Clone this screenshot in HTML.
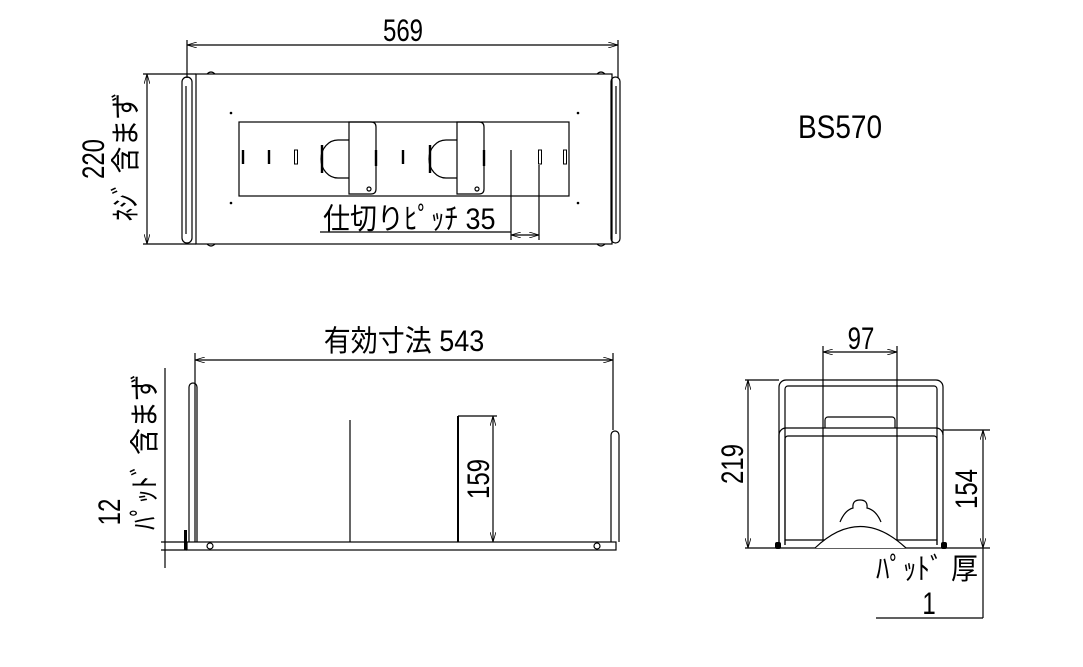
<!DOCTYPE html>
<html><head><meta charset="utf-8"><style>
html,body{margin:0;padding:0;background:#fff;}
svg{display:block;}
text{font-family:"Liberation Sans","Noto Sans CJK JP",sans-serif;fill:#000;}
</style></head><body>
<svg width="1083" height="667" viewBox="0 0 1083 667" xmlns="http://www.w3.org/2000/svg">
<defs>
<marker id="a" viewBox="0 0 10 6" refX="10" refY="3" markerWidth="10" markerHeight="6" orient="auto-start-reverse" markerUnits="userSpaceOnUse">
<path d="M0,0 L10,3 L0,6" fill="none" stroke="#000" stroke-width="0.8"/></marker>
</defs>
<g fill="none" stroke="#000" stroke-width="1.2">
<!-- TOP VIEW -->
<line x1="187" y1="40" x2="187" y2="78"/><line x1="618" y1="40" x2="618" y2="78"/>
<line x1="187" y1="45" x2="618" y2="45" marker-start="url(#a)" marker-end="url(#a)"/>
<rect x="196" y="74" width="416" height="170"/>
<rect x="182" y="77" width="10" height="166" rx="5"/>
<line x1="186" y1="86" x2="186" y2="234"/>
<rect x="611" y="77" width="9" height="166" rx="4.5"/>
<line x1="616" y1="86" x2="616" y2="234"/>
<path d="M207,74 q4,-4 8,0 M597,74 q4,-4 8,0 M207,244 q4,4 8,0 M597,244 q4,4 8,0"/>
<line x1="143" y1="74" x2="196" y2="74"/><line x1="143" y1="244" x2="196" y2="244"/>
<line x1="147" y1="74" x2="147" y2="244" marker-start="url(#a)" marker-end="url(#a)"/>
<rect x="239" y="122" width="330" height="74"/>
<path d="M349,122 h22 q5,0 5,5 v62 q0,5 -5,5 h-22 z"/>
<path d="M457,122 h22 q5,0 5,5 v62 q0,5 -5,5 h-22 z"/>
<path d="M349,140 h-11 a17,19 0 0 0 0,38 h11"/>
<path d="M457,140 h-11 a17,19 0 0 0 0,38 h11"/>
<circle cx="369" cy="189" r="2"/><circle cx="477" cy="189" r="2"/>
<rect x="294.5" y="150" width="3" height="14" stroke-width="1"/>
<rect x="538.5" y="150" width="3" height="14" stroke-width="1"/>
<rect x="563.5" y="150" width="3" height="14" stroke-width="1"/>
<line x1="511" y1="150" x2="511" y2="240"/><line x1="539" y1="165" x2="539" y2="240"/>
<line x1="511" y1="235" x2="539" y2="235" marker-start="url(#a)" marker-end="url(#a)"/>
<line x1="320" y1="232" x2="511" y2="232"/>
</g>
<g stroke="#000" stroke-width="2.4">
<line x1="243" y1="150" x2="243" y2="164"/><line x1="269" y1="150" x2="269" y2="164"/>
<line x1="403" y1="150" x2="403" y2="164"/><line x1="322" y1="145" x2="322" y2="173"/>
<line x1="430" y1="145" x2="430" y2="173"/><line x1="376" y1="150" x2="376" y2="166"/><line x1="484" y1="150" x2="484" y2="166"/>
</g>
<g fill="#000"><circle cx="231" cy="113" r="1.3"/><circle cx="578" cy="113" r="1.3"/><circle cx="231" cy="203" r="1.3"/><circle cx="578" cy="203" r="1.3"/></g>
<g transform="translate(403,41) scale(1,1.3)"><text font-size="24" text-anchor="middle">569</text></g>
<g transform="translate(104,159) rotate(-90) scale(1,1.3)"><text font-size="24" text-anchor="middle">220</text></g>
<g transform="translate(136,157) rotate(-90) scale(1,1.1)"><text font-size="27" text-anchor="middle">ﾈｼﾞ 含まず</text></g>
<g transform="translate(323,229) scale(1,1.1)"><text font-size="27">仕切りﾋﾟｯﾁ 35</text></g>
<g transform="translate(798,138) scale(1,1.15)"><text font-size="28">BS570</text></g>

<!-- SIDE VIEW -->
<g fill="none" stroke="#000" stroke-width="1.2">
<line x1="195" y1="353" x2="195" y2="542"/><line x1="613" y1="353" x2="613" y2="430"/>
<line x1="195" y1="360" x2="613" y2="360" marker-start="url(#a)" marker-end="url(#a)"/>
<path d="M189,542 V387 a4,4 0 0 1 8,0 V542"/>
<path d="M611,542 V435 a4,4 0 0 1 8,0 V542"/>
<rect x="187" y="542" width="429" height="8"/>
<line x1="350" y1="420" x2="350" y2="542"/>
<line x1="458" y1="416" x2="458" y2="542" stroke-width="2"/>
<line x1="458" y1="416" x2="497" y2="416"/>
<line x1="493" y1="416" x2="493" y2="542" marker-start="url(#a)" marker-end="url(#a)"/>
<line x1="165" y1="368" x2="165" y2="568"/>
<line x1="161" y1="542" x2="187" y2="542"/><line x1="161" y1="550" x2="187" y2="550"/>
<circle cx="210" cy="546" r="3"/><circle cx="597" cy="546" r="3"/>
</g>
<rect x="184" y="530" width="3" height="20" fill="#000"/>
<g transform="translate(404,351) scale(1,1.1)"><text font-size="27" text-anchor="middle">有効寸法 543</text></g>
<g transform="translate(489,479) rotate(-90) scale(1,1.3)"><text font-size="24" text-anchor="middle">159</text></g>
<g transform="translate(120,512) rotate(-90) scale(1,1.3)"><text font-size="24" text-anchor="middle">12</text></g>
<g transform="translate(155,452) rotate(-90) scale(1,1.1)"><text font-size="27" text-anchor="middle">ﾊﾟｯﾄﾞ 含まず</text></g>

<!-- FRONT VIEW -->
<g fill="none" stroke="#000" stroke-width="1.2">
<line x1="823" y1="346" x2="823" y2="548"/><line x1="897" y1="346" x2="897" y2="548"/>
<line x1="823" y1="352" x2="897" y2="352" marker-start="url(#a)" marker-end="url(#a)"/>
<path d="M779,545 V387 a7,7 0 0 1 7,-7 H936 a7,7 0 0 1 7,7 V545"/>
<path d="M785,545 V389 a3,3 0 0 1 3,-3 H934 a3,3 0 0 1 3,3 V545"/>
<path d="M779,545 V435 a7,7 0 0 1 7,-7 H936 a7,7 0 0 1 7,7"/>
<path d="M785,545 V439 a3,3 0 0 1 3,-3 H934 a3,3 0 0 1 3,3 V545"/>
<path d="M825,428 V420 a3,3 0 0 1 3,-3 H892 a3,3 0 0 1 3,3 V428"/>
<line x1="745" y1="380" x2="779" y2="380"/>
<line x1="748" y1="380" x2="748" y2="548" marker-start="url(#a)" marker-end="url(#a)"/>
<line x1="943" y1="430" x2="990" y2="430"/>
<line x1="983" y1="430" x2="983" y2="548" marker-start="url(#a)" marker-end="url(#a)"/>
<line x1="745" y1="548" x2="990" y2="548"/>
<line x1="983" y1="548" x2="983" y2="618"/>
<line x1="876" y1="618" x2="983" y2="618"/>
<line x1="785" y1="540" x2="937" y2="540"/>
<path d="M815,548 Q860,505 906,548" fill="#fff"/>
<path d="M840,522 Q845,510 853,508 Q852,500 860,500 Q868,500 867,508 Q876,510 881,522"/>
</g>
<g fill="#000"><rect x="775" y="542" width="6" height="7" rx="2"/><rect x="941" y="542" width="6" height="7" rx="2"/></g>
<g transform="translate(861,349) scale(1,1.3)"><text font-size="24" text-anchor="middle">97</text></g>
<g transform="translate(743,464) rotate(-90) scale(1,1.3)"><text font-size="24" text-anchor="middle">219</text></g>
<g transform="translate(977,489) rotate(-90) scale(1,1.3)"><text font-size="24" text-anchor="middle">154</text></g>
<g transform="translate(876,579) scale(1,1.1)"><text font-size="27">ﾊﾟｯﾄﾞ 厚</text></g>
<g transform="translate(929,614) scale(1,1.3)"><text font-size="24" text-anchor="middle">1</text></g>
</svg>
</body></html>
